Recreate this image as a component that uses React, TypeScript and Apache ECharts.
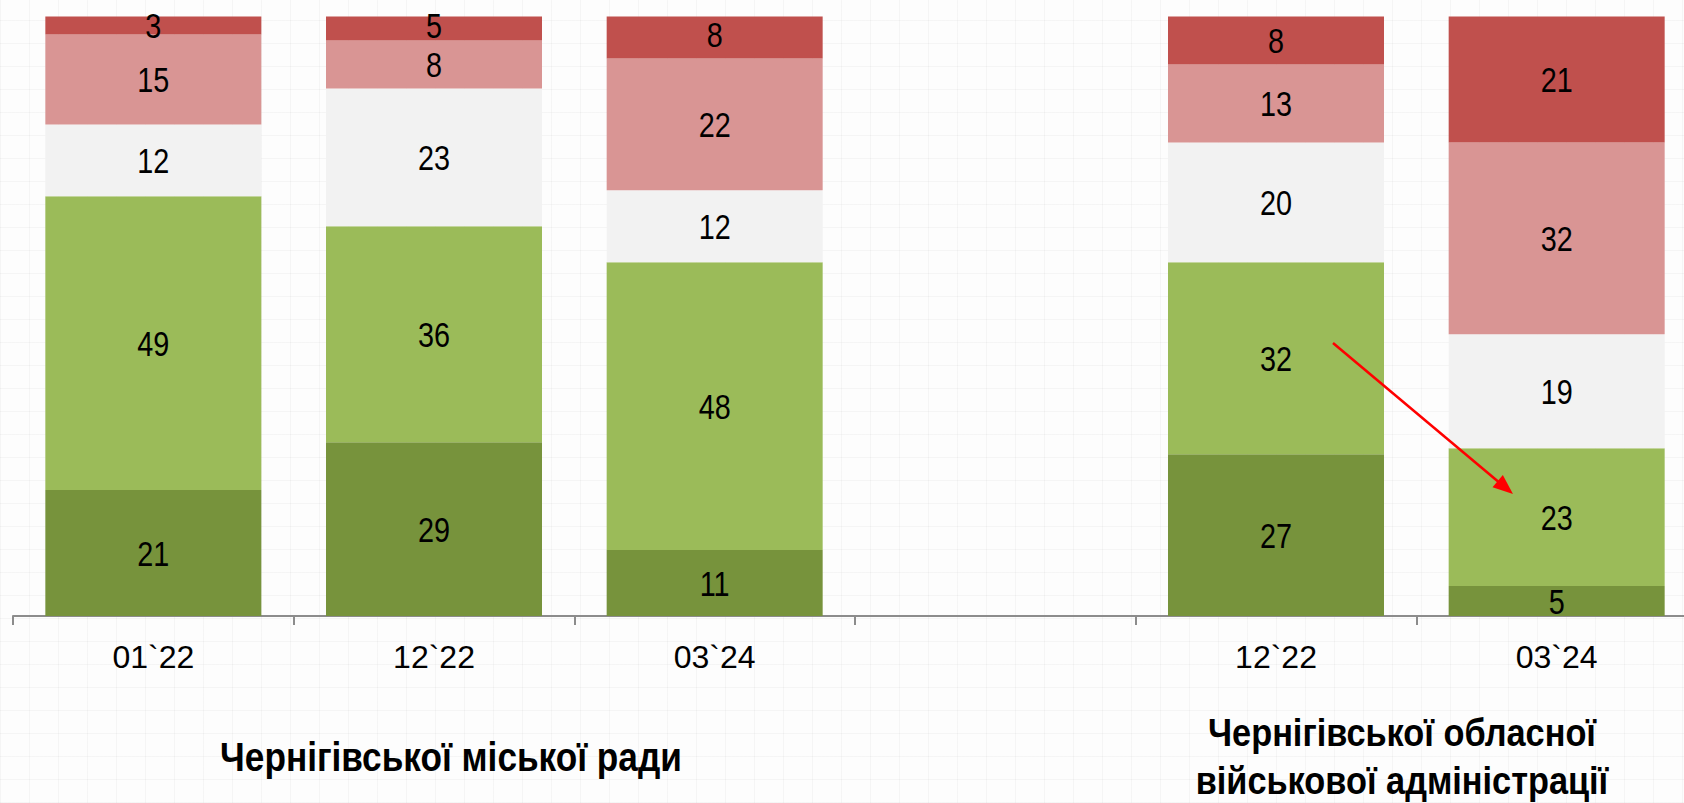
import React, { useEffect, useRef } from "react";
import * as echarts from "echarts";

const categories = ["01`22", "12`22", "03`24", "", "12`22", "03`24"];
const darkGreen = [21, 29, 11, null, 27, 5];
const lightGreen = [49, 36, 48, null, 32, 23];
const grayPart = [12, 23, 12, null, 20, 19];
const pinkPart = [15, 8, 22, null, 13, 32];
const redPart = [3, 5, 8, null, 8, 21];
const groupTitles = ["Чернігівської міської ради", "Чернігівської обласної\nвійськової адміністрації"];

const FONT = "'Liberation Sans', Arial, sans-serif";
const stackSeries = [darkGreen, lightGreen, grayPart, pinkPart, redPart];
const colors = ["#77933C", "#9BBB59", "#F2F2F2", "#D99594", "#C0504D"];

export default function App() {
  const ref = useRef<HTMLDivElement>(null);
  useEffect(() => {
    if (!ref.current) return;
    const chart = echarts.init(ref.current, null, { renderer: "svg" });

    // label points: [categoryIndex, middle of the stacked segment, value]
    const labelData: any[] = [];
    categories.forEach((_, i) => {
      let acc = 0;
      stackSeries.forEach((arr) => {
        const v = arr[i];
        if (v == null) return;
        labelData.push([i, acc + v / 2, v]);
        acc += v;
      });
    });

    const barSeries = stackSeries.map((data, k) => ({
      name: "s" + k,
      type: "bar",
      stack: "total",
      data,
      barWidth: 216,
      itemStyle: { color: colors[k] },
      z: 2,
    }));

    const ax = 1333, ay = 343, tx = 1513, ty = 494;
    const dx = tx - ax, dy = ty - ay;
    const len = Math.sqrt(dx * dx + dy * dy);
    const ux = dx / len, uy = dy / len;
    const px = -uy, py = ux;
    const hl = 20, hw = 8;
    const bx = tx - hl * ux, by = ty - hl * uy;

    chart.setOption({
      animation: false,
      backgroundColor: "transparent",
      grid: { left: 13, top: 16.5, width: 1684, height: 599.5, containLabel: false, outerBoundsMode: "none" },
      xAxis: {
        type: "category",
        data: categories,
        axisLine: { show: true, lineStyle: { color: "#8c8c8c", width: 2 } },
        axisTick: { show: true, length: 9, lineStyle: { color: "#8c8c8c", width: 2 } },
        axisLabel: { color: "#000", fontSize: 32, fontFamily: FONT, margin: 25 },
      },
      yAxis: { type: "value", min: 0, max: 100, show: false, splitLine: { show: false } },
      series: [
        ...barSeries,
        {
          type: "custom",
          name: "labels",
          data: labelData,
          encode: { x: 0, y: 1 },
          z: 5,
          silent: true,
          renderItem: (params: any, api: any) => {
            const pt = api.coord([api.value(0), api.value(1)]);
            return {
              type: "text",
              x: pt[0],
              y: pt[1],
              scaleX: 0.8,
              style: {
                text: String(api.value(2)),
                fontSize: 36,
                fontFamily: FONT,
                fill: "#000",
                align: "center",
                verticalAlign: "middle",
              },
            };
          },
        },
      ],
      graphic: [
        {
          type: "text",
          x: 451,
          y: 757,
          scaleX: 0.88,
          z: 100,
          style: {
            text: groupTitles[0],
            fontSize: 40,
            fontWeight: "bold",
            fontFamily: FONT,
            fill: "#000",
            align: "center",
            verticalAlign: "middle",
          },
        },
        {
          type: "text",
          x: 1402,
          y: 757,
          scaleX: 0.88,
          z: 100,
          style: {
            text: groupTitles[1],
            fontSize: 39,
            fontWeight: "bold",
            fontFamily: FONT,
            fill: "#000",
            align: "center",
            verticalAlign: "middle",
            lineHeight: 48,
          },
        },
        {
          type: "line",
          z: 100,
          shape: { x1: ax, y1: ay, x2: bx + 4 * ux, y2: by + 4 * uy },
          style: { stroke: "#FF0000", lineWidth: 2.5 },
        },
        {
          type: "polygon",
          z: 100,
          shape: { points: [[tx, ty], [bx + hw * px, by + hw * py], [bx - hw * px, by - hw * py]] },
          style: { fill: "#FF0000" },
        },
      ],
    });
    return () => chart.dispose();
  }, []);
  const bg =
    "repeating-linear-gradient(0deg, rgba(0,0,0,0.03) 0px, rgba(0,0,0,0.03) 1px, transparent 1px, transparent 23px)," +
    "repeating-linear-gradient(90deg, rgba(0,0,0,0.03) 0px, rgba(0,0,0,0.03) 1px, transparent 1px, transparent 29px), #fdfdfd";
  return (
    <div
      ref={ref}
      style={{ position: "absolute", left: 0, top: 0, width: 1684, height: 803, background: bg, overflow: "hidden" }}
    />
  );
}
